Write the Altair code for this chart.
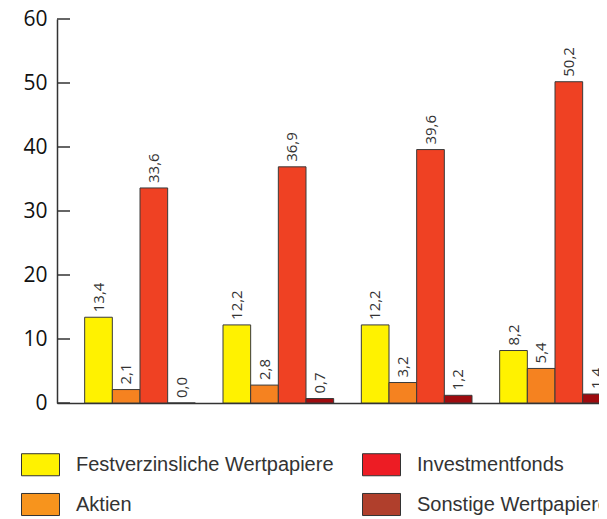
import altair as alt
import pandas as pd

groups = ["Gruppe 1", "Gruppe 2", "Gruppe 3", "Gruppe 4"]
series = ["Festverzinsliche Wertpapiere", "Aktien", "Investmentfonds", "Sonstige Wertpapiere"]
festverzinsliche = [13.4, 12.2, 12.2, 8.2]
aktien = [2.1, 2.8, 3.2, 5.4]
investmentfonds = [33.6, 36.9, 39.6, 50.2]
sonstige = [0.0, 0.7, 1.2, 1.4]
y_ticks = [0, 10, 20, 30, 40, 50, 60]

bar_colors = ["#FFF200", "#F58220", "#EF4123", "#9E0B0F"]
legend_colors = ["#FFF200", "#F7941D", "#ED1C24", "#B03F2C"]

rows = []
for s, vals in zip(series, [festverzinsliche, aktien, investmentfonds, sonstige]):
    for g, v in zip(groups, vals):
        rows.append({"gruppe": g, "serie": s, "wert": v, "label": f"{v:.1f}".replace(".", ",")})
df = pd.DataFrame(rows)
ticks_df = pd.DataFrame({"t": y_ticks})

x_enc = alt.X("gruppe:N", sort=groups,
              scale=alt.Scale(range=[0, 581], paddingInner=0.2, paddingOuter=0.2),
              axis=alt.Axis(labels=False, ticks=False, title=None, domainColor="#333333",
                            domainWidth=1.5, grid=False))
xo_enc = alt.XOffset("serie:N", sort=series, scale=alt.Scale(paddingInner=0, paddingOuter=0))
y_scale = alt.Scale(domain=[0, 60], nice=False)

bars = alt.Chart(df).mark_bar(stroke="#3a3a3a", strokeWidth=1, clip=True).encode(
    x=x_enc,
    xOffset=xo_enc,
    y=alt.Y("wert:Q", scale=y_scale,
            axis=alt.Axis(values=y_ticks, ticks=False, title=None, grid=False,
                          labelFont="Open Sans", labelFontSize=21, labelColor="#111111",
                          labelPadding=10, domainColor="#333333", domainWidth=1.5)),
    color=alt.Color("serie:N", scale=alt.Scale(domain=series, range=bar_colors), legend=None),
)

labels = alt.Chart(df).mark_text(angle=270, align="left", baseline="middle", dx=5,
                                 font="Open Sans", fontSize=15, color="#333333").encode(
    x=alt.X("gruppe:N", sort=groups),
    xOffset=alt.XOffset("serie:N", sort=series),
    y=alt.Y("wert:Q"),
    text="label:N",
)

tick_marks = alt.Chart(ticks_df).mark_rule(color="#333333", strokeWidth=1.5).encode(
    y=alt.Y("t:Q"),
    x=alt.value(0),
    x2=alt.value(13),
)

legend_layer = alt.Chart(df).transform_filter("false").mark_square(opacity=1).encode(
    color=alt.Color("serie:N",
                    scale=alt.Scale(domain=series, range=legend_colors),
                    legend=alt.Legend(title=None, orient="none", legendX=-36, legendY=426,
                                      columns=2, columnPadding=26, rowPadding=7,
                                      symbolType="M-1,-0.58H1V0.58H-1Z", symbolSize=1444,
                                      symbolStrokeColor="#333333", symbolStrokeWidth=1,
                                      symbolOpacity=1, labelFont="Liberation Sans",
                                      labelFontSize=20, labelColor="#333333", labelOffset=16,
                                      labelLimit=400, padding=0)),
)

chart = alt.layer(bars, labels, tick_marks, legend_layer).resolve_scale(
    color="independent"
).properties(
    width=542, height=384,
    autosize=alt.AutoSizeParams(type="none"),
    padding={"left": 49, "top": 11, "right": 0, "bottom": 114},
).configure_view(stroke=None)

chart.save("out.html", embed_options={"renderer": "svg", "actions": False})
